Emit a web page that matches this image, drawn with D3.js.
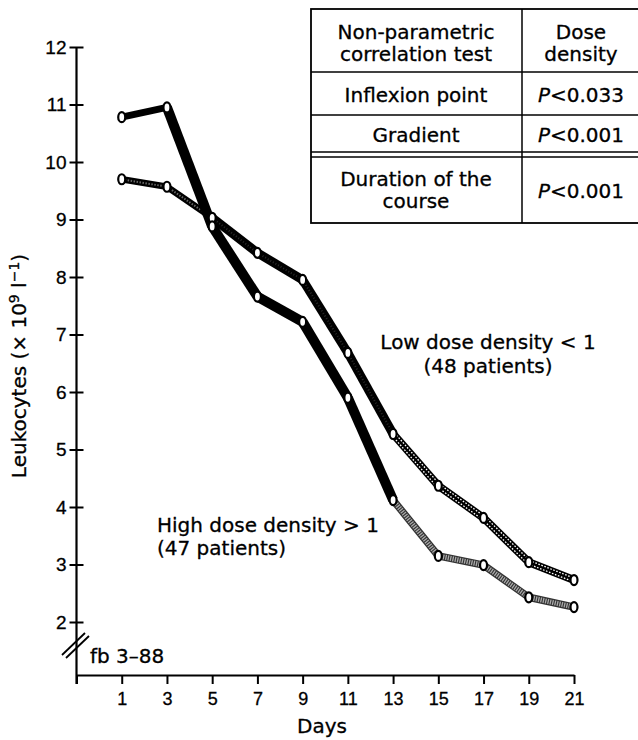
<!DOCTYPE html>
<html>
<head>
<meta charset="utf-8">
<script src="https://cdn.jsdelivr.net/npm/d3@7"></script>
<style>
  html, body { margin: 0; padding: 0; background: #fff; }
  svg { display: block; }
  .word { font-family: "DejaVu Sans", sans-serif; fill: #000; stroke: #000; stroke-width: 0.3px; }
  .num { font-family: "Liberation Sans", Arial, sans-serif; fill: #000; stroke: #000; stroke-width: 0.3px; }
</style>
</head>
<body>
<svg id="chart" width="638" height="740"></svg>
<script>
// ---- data ----
const days = [1, 3, 5, 7, 9, 11, 13, 15, 17, 19, 21];
const highDose = [10.78, 10.95, 8.88, 7.66, 7.22, 5.90, 4.12, 3.15, 2.99, 2.43, 2.26];
const lowDose  = [9.70, 9.57, 9.03, 8.42, 7.95, 6.68, 5.27, 4.37, 3.81, 3.04, 2.73];
const yTicks = [2, 3, 4, 5, 6, 7, 8, 9, 10, 11, 12];
const xTicks = [-1, 1, 3, 5, 7, 9, 11, 13, 15, 17, 19, 21];
const tableHeader = [["Non-parametric", "correlation test"], ["Dose", "density"]];
const tableRows = [
  [["Inflexion point"], "<0.033"],
  [["Gradient"], "<0.001"],
  [["Duration of the", "course"], "<0.001"]
];

// ---- layout ----
const svg = d3.select("#chart");
const x = d3.scaleLinear().domain([-1, 21]).range([76.5, 574]);
const y = d3.scaleLinear().domain([2, 12]).range([622, 47]);
const xAxisY = 675;

// Y axis
const yAxis = svg.append("g").attr("transform", `translate(${x(-1)},0)`)
  .call(d3.axisLeft(y).tickValues(yTicks).tickSize(0).tickPadding(10));
yAxis.select(".domain").remove();
yAxis.selectAll(".tick line").attr("x1", -7).attr("x2", 7).attr("stroke", "#000").attr("stroke-width", 2);
yAxis.selectAll(".tick text").attr("class", "num").style("font-size", "19px")
  .attr("font-family", null).attr("fill", "#000");
svg.append("line").attr("x1", x(-1)).attr("x2", x(-1)).attr("y1", y(12)).attr("y2", xAxisY + 9)
  .attr("stroke", "#000").attr("stroke-width", 2.2);

// axis break
[[0, 0], [4, 3]].forEach(([dx, dy]) => {
  svg.append("line")
    .attr("x1", 62 + dx).attr("y1", 655 + dy)
    .attr("x2", 85 + dx).attr("y2", 633 + dy)
    .attr("stroke", "#000").attr("stroke-width", 1.8);
});

// X axis
const xAxis = svg.append("g").attr("transform", `translate(0,${xAxisY})`)
  .call(d3.axisBottom(x).tickValues(xTicks).tickSize(9).tickSizeOuter(0).tickPadding(8)
    .tickFormat(d => d < 0 ? "" : d));
xAxis.select(".domain").attr("stroke", "#000").attr("stroke-width", 2.2);
xAxis.selectAll(".tick line").attr("stroke", "#000").attr("stroke-width", 2);
xAxis.selectAll(".tick text").attr("class", "num").style("font-size", "18px")
  .attr("font-family", null).attr("fill", "#000");

// axis titles
svg.append("text").attr("class", "word").attr("x", 322).attr("y", 733)
  .attr("text-anchor", "middle").style("font-size", "20px").text("Days");

const yl = svg.append("text").attr("class", "word")
  .attr("transform", "translate(26,366) rotate(-90)")
  .attr("text-anchor", "middle").style("font-size", "20px");
yl.append("tspan").text("Leukocytes (× 10");
yl.append("tspan").attr("dy", -7).style("font-size", "14px").text("9");
yl.append("tspan").attr("dy", 7).text(" l");
yl.append("tspan").attr("dy", -7).style("font-size", "14px").text("−1");
yl.append("tspan").attr("dy", 7).text(")");

svg.append("text").attr("class", "word").attr("x", 90).attr("y", 663)
  .style("font-size", "20px").text("fb 3–88");

// ---- lines ----
const line = d3.line().x(d => x(d[0])).y(d => y(d[1]));
function seg(values, i) { return [[days[i], values[i]], [days[i + 1], values[i + 1]]]; }

const styles = {
  blackThin:  [{ c: "#000", w: 7 }],
  blackThick: [{ c: "#000", w: 10 }],
  greyStip:   [{ c: "#333", w: 7.5 }, { c: "#aaa", w: 5, dash: "1.3 1.1" }],
  darkStip:   [{ c: "#000", w: 6.5 }, { c: "#666", w: 2, dash: "1.5 1.5" }],
  blackTex:   [{ c: "#000", w: 9 }, { c: "#2a2a2a", w: 2, dash: "1 2" }],
  hatched:    [{ c: "#000", w: 8 }, { c: "#fff", w: 1.3, dash: "1.6 1.6", off: -1.8 },
               { c: "#fff", w: 1.3, dash: "1.6 1.6", off: 1.8 }]
};
const highStyle = ["blackThin", "blackThick", "blackThick", "blackThick", "blackThick", "blackThick",
                   "greyStip", "greyStip", "greyStip", "greyStip"];
const lowStyle  = ["darkStip", "darkStip", "blackTex", "blackTex", "blackTex", "blackTex",
                   "hatched", "hatched", "hatched", "hatched"];

function drawSeries(values, styleList) {
  const g = svg.append("g");
  for (let i = 0; i < days.length - 1; i++) {
    const pts = seg(values, i);
    const x0 = x(pts[0][0]), y0 = y(pts[0][1]), x1 = x(pts[1][0]), y1 = y(pts[1][1]);
    const len = Math.hypot(x1 - x0, y1 - y0);
    const nx = -(y1 - y0) / len, ny = (x1 - x0) / len;
    styles[styleList[i]].forEach(s => {
      const o = s.off || 0;
      g.append("path").attr("d", line(pts))
        .attr("transform", o ? `translate(${nx * o},${ny * o})` : null)
        .attr("fill", "none").attr("stroke", s.c).attr("stroke-width", s.w)
        .attr("stroke-dasharray", s.dash || null).attr("stroke-linecap", "butt");
    });
  }
  return g;
}
drawSeries(lowDose, lowStyle);
drawSeries(highDose, highStyle);

function drawMarkers(values) {
  svg.append("g").selectAll("ellipse").data(days.map((d, i) => [d, values[i]])).join("ellipse")
    .attr("cx", d => x(d[0])).attr("cy", d => y(d[1]))
    .attr("rx", 3.5).attr("ry", 5)
    .attr("fill", "#fff").attr("stroke", "#000").attr("stroke-width", 2.2);
}
drawMarkers(lowDose);
drawMarkers(highDose);

// series labels
const lowLbl = svg.append("text").attr("class", "word").attr("text-anchor", "middle").style("font-size", "20px");
lowLbl.append("tspan").attr("x", 488).attr("y", 349).text("Low dose density < 1");
lowLbl.append("tspan").attr("x", 488).attr("y", 373).text("(48 patients)");
const highLbl = svg.append("text").attr("class", "word").style("font-size", "20px");
highLbl.append("tspan").attr("x", 157).attr("y", 532).text("High dose density > 1");
highLbl.append("tspan").attr("x", 157).attr("y", 555).text("(47 patients)");

// ---- table ----
const tL = 311, tR = 642, tT = 9, tB = 223, tC = 522;
const rowLines = [72, 115, 152, 157];
const tg = svg.append("g");
tg.append("rect").attr("x", tL).attr("y", tT).attr("width", tR - tL).attr("height", tB - tT)
  .attr("fill", "#fff").attr("stroke", "#000").attr("stroke-width", 1.8);
tg.append("line").attr("x1", tC).attr("x2", tC).attr("y1", tT).attr("y2", tB)
  .attr("stroke", "#000").attr("stroke-width", 1.5);
rowLines.forEach(ry => tg.append("line").attr("x1", tL).attr("x2", tR).attr("y1", ry).attr("y2", ry)
  .attr("stroke", "#000").attr("stroke-width", 1.5));

const c1 = 416, c2 = 581, fs = "20px";
function cellText(cx, lines, baseY) {
  const t = tg.append("text").attr("class", "word").attr("text-anchor", "middle").style("font-size", fs);
  lines.forEach((l, i) => t.append("tspan").attr("x", cx).attr("y", baseY + i * 22).text(l));
}
cellText(c1, tableHeader[0], 39);
cellText(c2, tableHeader[1], 39);
const rowBase = [102, 142, 186];
const pBase = [102, 142, 198];
tableRows.forEach((r, i) => {
  cellText(c1, r[0], rowBase[i]);
  const t = tg.append("text").attr("class", "word").attr("text-anchor", "middle")
    .attr("x", c2).attr("y", pBase[i]).style("font-size", fs);
  t.append("tspan").style("font-style", "italic").text("P");
  t.append("tspan").text(r[1]);
});
</script>
</body>
</html>
